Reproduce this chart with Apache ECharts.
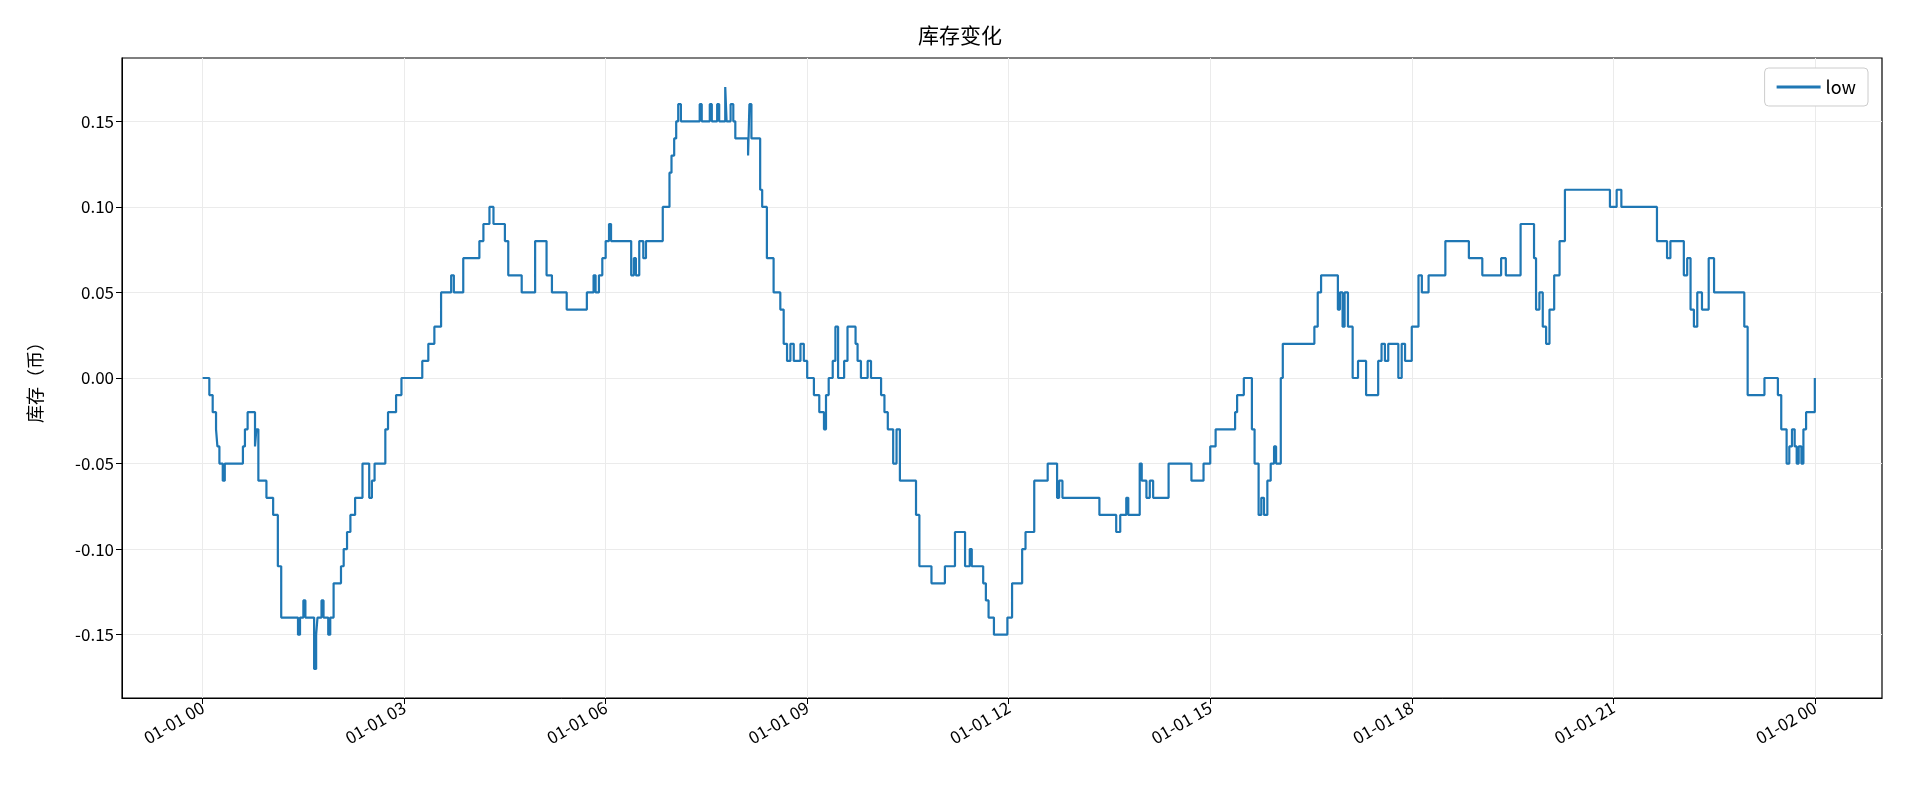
<!DOCTYPE html>
<html><head><meta charset="utf-8">
<script src="https://cdn.jsdelivr.net/npm/echarts@6/dist/echarts.min.js"></script>
<style>html,body{margin:0;background:#fff}#c{width:1920px;height:800px}</style>
</head><body><div id="c"></div>
<script>
// [hours since 01-01 00, value holding from that time]
const steps = [
[0,0],[0.1,-0.01],[0.15,-0.02],[0.2,-0.03],[0.22,-0.04],[0.25,-0.05],[0.3,-0.06],[0.33,-0.05],[0.6,-0.04],[0.63,-0.03],[0.67,-0.02],[0.78,-0.04],[0.8,-0.03],[0.83,-0.06],[0.95,-0.07],[1.05,-0.08],[1.12,-0.11],[1.17,-0.14],
[1.42,-0.15],[1.45,-0.14],[1.5,-0.13],[1.53,-0.14],[1.66,-0.17],[1.69,-0.15],[1.71,-0.14],[1.77,-0.13],[1.8,-0.14],[1.87,-0.15],[1.9,-0.14],[1.95,-0.12],[2.06,-0.11],[2.1,-0.10],[2.15,-0.09],[2.2,-0.08],[2.27,-0.07],[2.38,-0.05],[2.48,-0.07],[2.52,-0.06],[2.56,-0.05],[2.72,-0.03],[2.76,-0.02],[2.88,-0.01],[2.96,0.00],
[3.27,0.01],[3.36,0.02],[3.45,0.03],[3.55,0.05],[3.7,0.06],[3.74,0.05],[3.88,0.07],[4.12,0.08],[4.18,0.09],[4.27,0.10],[4.33,0.09],[4.5,0.08],[4.55,0.06],[4.75,0.05],[4.95,0.08],[5.12,0.06],[5.2,0.05],[5.42,0.04],[5.72,0.05],[5.82,0.06],[5.85,0.05],[5.9,0.06],[5.95,0.07],[6.0,0.08],[6.05,0.09],[6.08,0.08],[6.38,0.06],[6.42,0.07],[6.45,0.06],[6.5,0.08],[6.56,0.07],[6.6,0.08],[6.85,0.10],[6.95,0.12],[6.98,0.13],[7.02,0.14],[7.05,0.15],
[7.08,0.16],[7.12,0.15],[7.4,0.16],[7.43,0.15],[7.55,0.16],[7.58,0.15],[7.66,0.16],[7.69,0.15],[7.78,0.17],[7.8,0.15],[7.86,0.16],[7.9,0.15],[7.93,0.14],[8.12,0.13],[8.14,0.16],[8.17,0.14],[8.3,0.11],[8.33,0.10],[8.4,0.07],[8.5,0.05],[8.6,0.04],[8.65,0.02],[8.7,0.01],[8.75,0.02],[8.8,0.01],[8.9,0.02],[8.95,0.01],[9.0,0.00],[9.1,-0.01],[9.18,-0.02],[9.25,-0.03],[9.28,-0.01],[9.32,0.00],[9.38,0.01],[9.42,0.03],[9.46,0.00],[9.55,0.01],[9.6,0.03],[9.72,0.02],[9.75,0.01],[9.8,0.00],[9.9,0.01],[9.95,0.00],
[10.1,-0.01],[10.15,-0.02],[10.2,-0.03],[10.28,-0.05],[10.33,-0.03],[10.38,-0.06],[10.62,-0.08],[10.67,-0.11],[10.85,-0.12],[11.05,-0.11],[11.2,-0.09],[11.35,-0.11],[11.42,-0.10],[11.45,-0.11],[11.62,-0.12],[11.66,-0.13],[11.7,-0.14],[11.78,-0.15],[11.98,-0.14],[12.05,-0.12],[12.2,-0.10],[12.25,-0.09],[12.38,-0.06],[12.42,-0.06],[12.58,-0.05],[12.72,-0.07],[12.75,-0.06],[12.8,-0.07],
[13.35,-0.08],[13.6,-0.09],[13.66,-0.08],[13.75,-0.07],[13.78,-0.08],[13.95,-0.05],[13.98,-0.06],[14.05,-0.07],[14.1,-0.06],[14.15,-0.07],[14.38,-0.05],[14.72,-0.06],[14.9,-0.05],[15.0,-0.04],[15.08,-0.03],[15.37,-0.02],[15.4,-0.01],[15.5,0.00],[15.62,-0.03],[15.66,-0.05],[15.72,-0.08],[15.76,-0.07],[15.8,-0.08],[15.85,-0.06],[15.9,-0.05],[15.95,-0.04],[15.98,-0.05],
[16.05,0.00],[16.08,0.02],[16.55,0.03],[16.6,0.05],[16.65,0.06],[16.9,0.04],[16.93,0.05],[16.97,0.03],[17.0,0.05],[17.05,0.03],[17.12,0.00],[17.2,0.01],[17.32,-0.01],[17.5,0.01],[17.55,0.02],[17.6,0.01],[17.65,0.02],[17.8,0.00],[17.85,0.02],[17.9,0.01],[18.0,0.03],[18.1,0.06],[18.15,0.05],[18.25,0.06],[18.5,0.08],[18.85,0.07],[19.05,0.06],[19.33,0.07],[19.4,0.06],[19.62,0.09],[19.82,0.07],[19.85,0.04],[19.9,0.05],[19.95,0.03],[20.0,0.02],[20.05,0.04],[20.12,0.06],[20.2,0.08],[20.28,0.11],
[20.95,0.10],[21.05,0.11],[21.12,0.10],[21.65,0.08],[21.8,0.07],[21.85,0.08],[22.05,0.06],[22.1,0.07],[22.15,0.04],[22.2,0.03],[22.25,0.05],[22.32,0.04],[22.42,0.07],[22.5,0.05],[22.6,0.05],[22.95,0.03],[23.0,-0.01],[23.25,0.00],[23.45,-0.01],[23.5,-0.03],[23.58,-0.05],[23.62,-0.04],[23.66,-0.03],[23.7,-0.04],[23.73,-0.05],[23.76,-0.04],[23.8,-0.05],[23.83,-0.03],[23.87,-0.02],[24.0,0.00]
];
const xTicks = [0,3,6,9,12,15,18,21,24];
const xTickLabels = ['01-01 00','01-01 03','01-01 06','01-01 09','01-01 12','01-01 15','01-01 18','01-01 21','01-02 00'];
const yTicks = [-0.15,-0.10,-0.05,0.00,0.05,0.10,0.15];

const font = 'Noto Sans CJK SC';
const chart = echarts.init(document.getElementById('c'));
chart.setOption({
  animation:false,
  textStyle:{fontFamily:font},
  title:{text:'库存变化',left:'center',top:20,textStyle:{fontFamily:font,fontSize:21,fontWeight:'normal',color:'#000'}},
  legend:{top:68,right:52,orient:'vertical',itemWidth:44,itemHeight:3,icon:'rect',itemGap:6,
    backgroundColor:'#fff',borderColor:'#ccc',borderWidth:1,borderRadius:4,padding:[10,12],
    textStyle:{fontFamily:font,fontSize:18,color:'#000'},data:['low']},
  grid:{left:122,right:38,top:58,bottom:102,show:true,borderColor:'#000',borderWidth:1.2},
  xAxis:{type:'value',min:-1.2,max:25.0,
    axisLine:{onZero:false,lineStyle:{color:'#000'}},
    axisTick:{customValues:xTicks,length:6,lineStyle:{color:'#000'}},
    axisLabel:{customValues:xTicks,rotate:30,fontSize:17,color:'#000',fontFamily:font,
      formatter:v=>xTickLabels[xTicks.indexOf(Math.round(v))]},
    splitLine:{show:true,customValues:xTicks,lineStyle:{color:'#ebebeb'}}},
  yAxis:{type:'value',min:-0.187,max:0.187,name:'库存（币）',nameLocation:'middle',nameGap:78,
    nameTextStyle:{fontFamily:font,fontSize:18,color:'#000'},
    axisLine:{show:true,onZero:false,lineStyle:{color:'#000'}},
    axisTick:{show:true,customValues:yTicks,length:6,lineStyle:{color:'#000'}},
    axisLabel:{customValues:yTicks,fontSize:17,color:'#000',fontFamily:font,formatter:v=>v.toFixed(2)},
    splitLine:{show:true,customValues:yTicks,lineStyle:{color:'#ebebeb'}}},
  series:[{name:'low',type:'line',step:'end',data:steps,showSymbol:false,
    lineStyle:{color:'#1f77b4',width:2.2},itemStyle:{color:'#1f77b4'}}]
});
</script></body></html>
